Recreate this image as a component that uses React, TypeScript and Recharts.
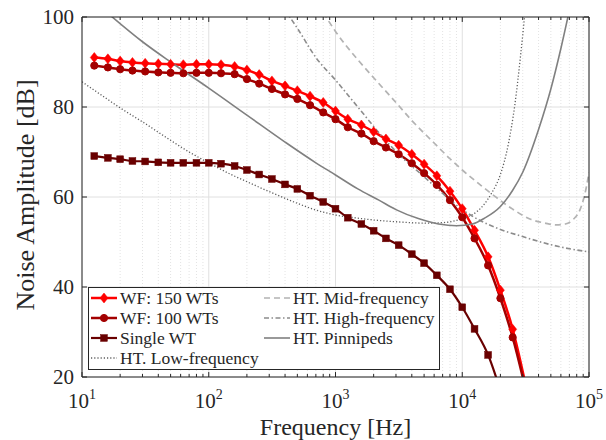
import React from "react";
import { LineChart, Line, XAxis, YAxis, CartesianGrid, ReferenceLine, Label } from "recharts";

// third-octave band centres for the wind farm spectra
const bandFreqs = [12.5, 16, 20, 25, 31.5, 40, 50, 63, 80, 100, 125, 160, 200, 250, 315, 400, 500, 630, 800, 1000,
  1250, 1600, 2000, 2500, 3150, 4000, 5000, 6300, 8000, 10000, 12500, 16000, 20000, 25000, 31500];
const wf150 = [91.0, 90.7, 90.2, 89.9, 89.7, 89.6, 89.5, 89.4, 89.5, 89.5, 89.4, 89.0, 88.2, 87.2, 85.8, 84.7, 83.6, 82.4, 81.0, 79.1,
  77.3, 76.0, 74.5, 72.9, 71.5, 69.5, 67.3, 64.7, 61.3, 57.4, 52.6, 46.7, 39.3, 30.6, 18.5];
const wf100 = [89.2, 88.8, 88.4, 88.1, 87.9, 87.7, 87.6, 87.5, 87.6, 87.6, 87.5, 87.3, 86.2, 85.2, 84.0, 82.8, 81.8, 80.4, 78.8, 77.3,
  75.5, 74.1, 72.4, 71.0, 69.5, 67.5, 65.3, 62.7, 59.3, 55.5, 50.8, 44.8, 37.5, 28.8, 17.5];
const singleWt = [69.1, 68.7, 68.4, 68.0, 67.9, 67.7, 67.6, 67.6, 67.6, 67.6, 67.4, 66.9, 66.0, 65.0, 64.0, 62.8, 61.8, 60.3, 58.9, 57.4,
  55.4, 54.0, 52.5, 50.8, 49.3, 47.3, 45.3, 42.6, 39.5, 35.5, 30.7, 24.9, 17.0];

// hearing thresholds
const lfFreqs = [10, 15, 20, 30, 50, 70, 100, 150, 200, 300, 500, 700, 1000, 1500, 2000, 3000, 5000, 7000, 9000, 11000,
  13000, 15000, 17000, 20000, 23000, 26000, 29000, 32000];
const lfValues = [85.6, 82.2, 79.8, 76.7, 72.6, 70.0, 67.6, 65.0, 63.4, 61.2, 58.6, 57.1, 56.0, 55.3, 54.9, 54.5, 54.2, 54.3, 54.8, 55.6,
  56.7, 58.5, 60.8, 65.0, 71.5, 80.5, 92.0, 104.0];
const mfFreqs = [800, 1000, 1500, 2000, 3000, 4000, 6000, 8000, 10000, 14000, 18000, 25000, 35000, 45000, 55000, 65000, 75000, 85000, 95000, 100000];
const mfValues = [101, 96.8, 90.5, 86.5, 81.0, 77.0, 72.0, 68.5, 66.0, 62.6, 60.2, 57.3, 55.0, 54.2, 53.8, 54.0, 55.0, 57.2, 62.0, 65.5];
const hfFreqs = [400, 500, 700, 1000, 1500, 2500, 3500, 5000, 7000, 10000, 14000, 20000, 30000, 50000, 70000, 100000];
const hfValues = [101.5, 97.5, 91.0, 86.0, 80.0, 72.5, 68.3, 64.5, 60.8, 57.2, 54.7, 52.8, 51.2, 49.4, 48.5, 47.8];
const pwFreqs = [15, 30, 50, 100, 200, 400, 700, 1000, 1500, 2200, 3000, 4500, 6500, 9000, 12000, 15000, 20000, 25000, 30000,
  40000, 50000, 60000, 70000];
const pwValues = [101.5, 94.5, 90.0, 84.2, 78.2, 72.2, 67.6, 64.9, 61.8, 59.3, 57.2, 55.2, 54.0, 53.6, 54.0, 55.3, 57.9, 61.5, 65.5,
  75.0, 84.0, 93.0, 101.5];

const seriesNames = ["WF: 150 WTs", "WF: 100 WTs", "Single WT", "HT. Low-frequency", "HT. Mid-frequency", "HT. High-frequency", "HT. Pinnipeds"];

const xTicks = [10, 100, 1000, 10000, 100000];
const yTicks = [20, 40, 60, 80, 100];

const FONT = "'Liberation Serif', 'DejaVu Serif', serif";
const AXIS = "#262626";

const zip = (fs: number[], vs: number[]) => vs.map((v, i) => ({ f: fs[i], v }));

const series = [
  { name: seriesNames[0], data: zip(bandFreqs, wf150), color: "#ff0000", width: 2.5, marker: "diamond" },
  { name: seriesNames[1], data: zip(bandFreqs, wf100), color: "#a30000", width: 2.5, marker: "circle" },
  { name: seriesNames[2], data: zip(bandFreqs, singleWt), color: "#690000", width: 2.2, marker: "square" },
  { name: seriesNames[3], data: zip(lfFreqs, lfValues), color: "#5e5e5e", width: 1.3, dash: "1.2 2" },
  { name: seriesNames[4], data: zip(mfFreqs, mfValues), color: "#b3b3b3", width: 1.7, dash: "6 4" },
  { name: seriesNames[5], data: zip(hfFreqs, hfValues), color: "#8c8c8c", width: 1.6, dash: "5 2.5 1.5 2.5" },
  { name: seriesNames[6], data: zip(pwFreqs, pwValues), color: "#808080", width: 1.6 },
];

// minor log grid positions (2..9 of each decade)
const minorFreqs: number[] = [];
[10, 100, 1000, 10000].forEach((d) => {
  for (let k = 2; k <= 9; k++) minorFreqs.push(d * k);
});

function Marker({ shape, cx, cy, color }: any) {
  if (shape === "diamond") {
    return <path d={`M${cx},${cy - 5}L${cx + 4},${cy}L${cx},${cy + 5}L${cx - 4},${cy}Z`} fill={color} stroke={color} strokeWidth={0.5} />;
  }
  if (shape === "circle") return <circle cx={cx} cy={cy} r={3.6} fill={color} stroke={color} />;
  if (shape === "square") return <rect x={cx - 3.4} y={cy - 3.4} width={6.8} height={6.8} fill={color} stroke={color} strokeWidth={0.5} />;
  return null;
}

const renderXTick = (props: any) => {
  const { x, y, payload } = props;
  const exp = Math.round(Math.log10(payload.value));
  return (
    <text x={x} y={y + 29} textAnchor="middle" fontFamily={FONT} fontSize={21} fill={AXIS}>
      <tspan>10</tspan>
      <tspan dy={-9} fontSize={14}>{exp}</tspan>
    </text>
  );
};

const renderYTick = (props: any) => {
  const { x, y, payload } = props;
  return (
    <text x={x - 6} y={y + 7} textAnchor="end" fontFamily={FONT} fontSize={21} fill={AXIS}>
      {payload.value}
    </text>
  );
};

const XLabel = () => (
  <text x={335.5} y={435} textAnchor="middle" fontFamily={FONT} fontSize={24} fill={AXIS}>
    Frequency [Hz]
  </text>
);

const YLabel = () => (
  <text x={34} y={195} transform="rotate(-90 34 195)" textAnchor="middle" fontFamily={FONT} fontSize={26} fill={AXIS}>
    Noise Amplitude [dB]
  </text>
);

function LegendBox() {
  return (
    <div
      style={{
        position: "absolute", left: 88, top: 287, width: 352, height: 83, boxSizing: "border-box",
        border: `1px solid ${AXIS}`, background: "#fff", fontFamily: FONT, fontSize: 17.5, color: AXIS,
      }}
    >
      {series.map((s, i) => {
        const col = i < 4 ? 0 : 1;
        const row = i < 4 ? i : i - 4;
        const left = col === 0 ? 1 : 174;
        const top = row * 20;
        return (
          <div key={s.name} style={{ position: "absolute", left, top, height: 20, whiteSpace: "nowrap" }}>
            <svg width={28} height={20} style={{ position: "absolute", left: 0, top: 0 }}>
              <line x1={1} y1={10} x2={27} y2={10} stroke={s.color} strokeWidth={s.width} strokeDasharray={(s as any).dash} />
              <Marker shape={(s as any).marker} cx={14} cy={10} color={s.color} />
            </svg>
            <span style={{ position: "absolute", left: 30, top: 0, lineHeight: "20px" }}>{s.name}</span>
          </div>
        );
      })}
    </div>
  );
}

export default function App() {
  return (
    <div style={{ position: "absolute", left: 0, top: 0, width: 606, height: 440, background: "#fff" }}>
      <LineChart width={606} height={440} margin={{ top: 17, right: 17, bottom: 0, left: 0 }}>
        <CartesianGrid stroke="#e0e0e0" />
        {minorFreqs.map((f) => (
          <ReferenceLine key={"g" + f} x={f} stroke="#e3e3e3" strokeDasharray="1 2" />
        ))}
        <XAxis
          dataKey="f" type="number" scale="log" domain={[10, 100000]} allowDataOverflow ticks={xTicks} interval={0}
          tick={renderXTick} tickLine={false} tickSize={0} height={63} stroke={AXIS}
        >
          <Label content={XLabel} />
        </XAxis>
        <YAxis
          type="number" domain={[20, 100]} allowDataOverflow ticks={yTicks} interval={0}
          tick={renderYTick} tickLine={false} tickSize={0} width={82} stroke={AXIS}
        >
          <Label content={YLabel} />
        </YAxis>
        {series.map((s) => (
          <Line
            key={s.name} data={s.data} dataKey="v" type="monotone" stroke={s.color} strokeWidth={s.width}
            strokeDasharray={(s as any).dash} isAnimationActive={false}
            dot={(s as any).marker ? (p: any) => <Marker key={p.index} shape={(s as any).marker} cx={p.cx} cy={p.cy} color={s.color} /> : false}
            activeDot={false}
          />
        ))}
        <ReferenceLine y={100} stroke={AXIS} />
        <ReferenceLine x={100000} stroke={AXIS} />
        {minorFreqs.map((f) => (
          <ReferenceLine key={"b" + f} segment={[{ x: f, y: 20 }, { x: f, y: 20.67 }]} stroke={AXIS} />
        ))}
        {minorFreqs.map((f) => (
          <ReferenceLine key={"t" + f} segment={[{ x: f, y: 100 }, { x: f, y: 99.33 }]} stroke={AXIS} />
        ))}
        {xTicks.map((f) => (
          <ReferenceLine key={"B" + f} segment={[{ x: f, y: 20 }, { x: f, y: 21.1 }]} stroke={AXIS} />
        ))}
        {xTicks.map((f) => (
          <ReferenceLine key={"T" + f} segment={[{ x: f, y: 100 }, { x: f, y: 98.9 }]} stroke={AXIS} />
        ))}
        {yTicks.map((v) => (
          <ReferenceLine key={"L" + v} segment={[{ x: 10, y: v }, { x: 10.95, y: v }]} stroke={AXIS} />
        ))}
        {yTicks.map((v) => (
          <ReferenceLine key={"R" + v} segment={[{ x: 91300, y: v }, { x: 100000, y: v }]} stroke={AXIS} />
        ))}
      </LineChart>
      <LegendBox />
    </div>
  );
}
